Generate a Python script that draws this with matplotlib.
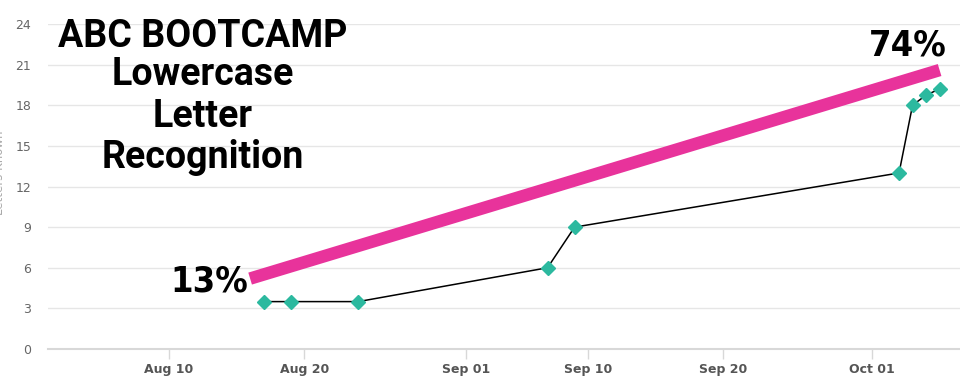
import matplotlib
matplotlib.use("Agg")
import matplotlib.pyplot as plt
import matplotlib.dates as mdates
import numpy as np

# letters recognised on each assessment day
dates = ["2019-08-17", "2019-08-19", "2019-08-24", "2019-09-07", "2019-09-09",
         "2019-10-03", "2019-10-04", "2019-10-05", "2019-10-06"]
values = [3.5, 3.5, 3.5, 6, 9, 13, 18, 18.75, 19.2]

# hand-drawn growth line (start -> end)
goal_dates = ["2019-08-16", "2019-10-06"]
goal_values = [5.2, 20.6]

tick_dates = ["2019-08-10", "2019-08-20", "2019-09-01", "2019-09-10",
              "2019-09-20", "2019-10-01"]
y_ticks = [0, 3, 6, 9, 12, 15, 18, 21, 24]

title_lines = ["ABC BOOTCAMP", "Lowercase", "Letter", "Recognition"]
start_label = "13%"
end_label = "74%"

x = mdates.datestr2num(dates)
gx = mdates.datestr2num(goal_dates)
tx = mdates.datestr2num(tick_dates)

W, H = 960, 383
fig = plt.figure(figsize=(W / 100, H / 100), dpi=100)
ax = fig.add_axes([48 / W, 1 - 349 / H, 1 - 48 / W, (349 - 24) / H])

px_per_day = (872 - 169) / 52.0
x0 = tx[0] - (169 - 48) / px_per_day
x1 = tx[0] + (960 - 169) / px_per_day
ax.set_xlim(x0, x1)
ax.set_ylim(0, 24)

ax.set_yticks(y_ticks)
ax.grid(axis="y", color="#e6e6e6", lw=1)
ax.set_axisbelow(True)
for s in ["top", "right", "left"]:
    ax.spines[s].set_visible(False)
ax.spines["bottom"].set_color("#d8d8d8")
ax.spines["bottom"].set_linewidth(1.5)
ax.tick_params(axis="y", length=0, pad=12, labelsize=9, labelcolor="#666666")

ax.set_xticks(tx)
ax.xaxis.set_major_formatter(mdates.DateFormatter("%b %d"))
ax.tick_params(axis="x", length=7, width=1, color="#d8d8d8", pad=3,
               labelsize=9, labelcolor="#555555")
for lab in ax.get_xticklabels():
    lab.set_fontweight("bold")

ax.plot(gx, goal_values, color="#e8339b", lw=9, solid_capstyle="butt", zorder=2)
ax.plot(x, values, color="black", lw=1.1, marker="D", markersize=7,
        markerfacecolor="#2cb99f", markeredgecolor="#2cb99f", zorder=3)

cx = 203 / W
for line, base in zip(title_lines, [47, 85, 127, 168]):
    fig.text(cx, 1 - base / H, line, ha="center", va="baseline",
             fontsize=27, fontweight="bold", family="Roboto", color="black")

fig.text(209 / W, 1 - 292 / H, start_label, ha="center", va="baseline",
         fontsize=26, fontweight="bold", family="DejaVu Sans",
         fontstretch="condensed")
fig.text(908 / W, 1 - 55 / H, end_label, ha="center", va="baseline",
         fontsize=26, fontweight="bold", family="DejaVu Sans",
         fontstretch="condensed")

fig.text(0.0, 0.55, "Letters Known", rotation=90, ha="center", va="center",
         fontsize=8.5, color="#aaaaaa")

fig.savefig("out.png", dpi=100)
